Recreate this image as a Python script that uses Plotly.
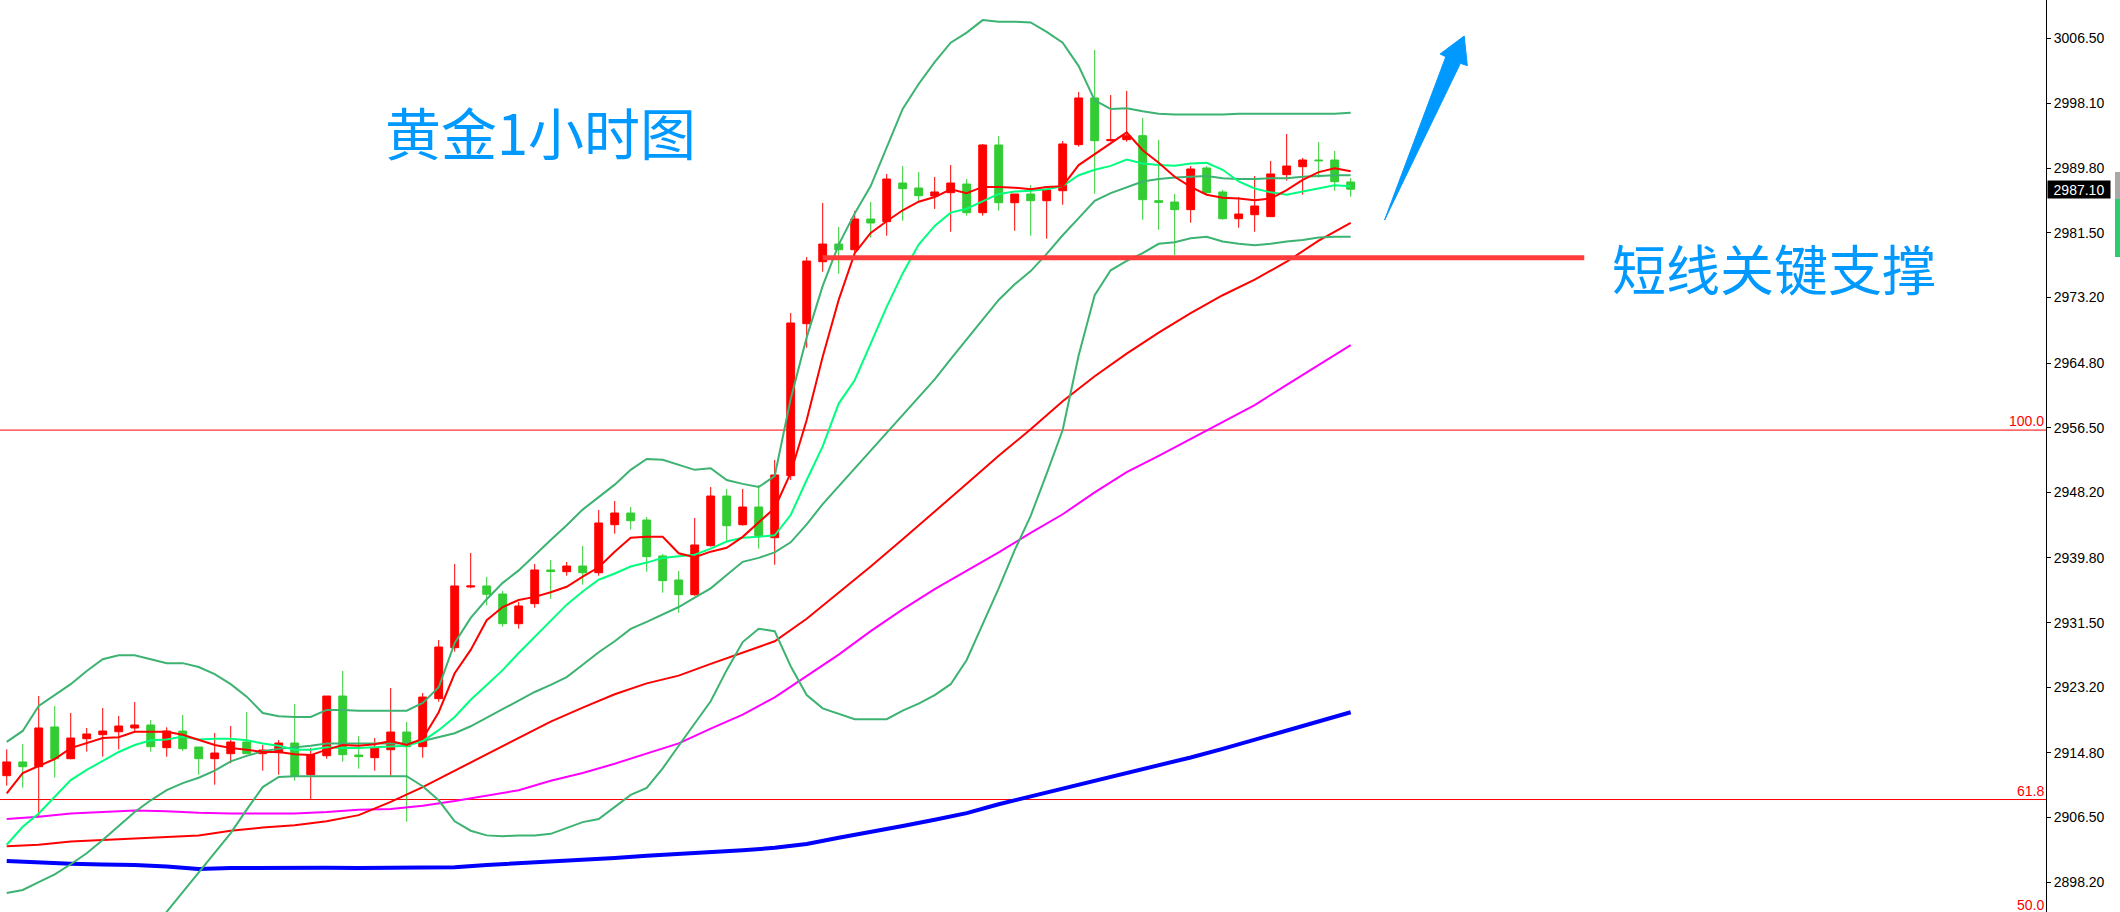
import plotly.graph_objects as go

# ---------------- figure geometry ----------------
W, H = 2120, 912
PLOT_W = 2046          # plot area width (price axis on the right)

# ---------------- data ----------------
candle_idx = list(range(85))

opens = [2911.86, 2913.62, 2913.01, 2918.11, 2914.04, 2916.60, 2917.12, 2917.50, 2917.98, 2918.36,
         2915.45, 2917.59, 2915.54, 2914.04, 2914.68, 2916.18, 2914.68, 2914.81, 2916.05, 2911.99,
         2914.42, 2922.08, 2914.51, 2914.17, 2915.19, 2917.46, 2915.58, 2921.74, 2928.28, 2936.07,
         2936.20, 2935.17, 2931.36, 2933.93, 2938.25, 2938.03, 2938.76, 2937.90, 2944.06, 2945.56,
         2944.66, 2940.05, 2936.97, 2935.08, 2941.37, 2947.74, 2944.06, 2946.33, 2942.39, 2950.35,
         2969.85, 2977.80, 2980.07, 2979.34, 2983.28, 2982.94, 2987.90, 2987.26, 2986.23, 2986.66,
         2987.77, 2984.09, 2992.78, 2985.37, 2986.49, 2985.63, 2986.91, 2992.82, 2998.81, 2993.33,
         2993.46, 2993.97, 2985.63, 2985.46, 2984.48, 2989.83, 2986.75, 2983.32, 2983.83, 2983.58,
         2988.97, 2989.99, 2990.85, 2990.85, 2988.03]
highs = [2915.24, 2915.92, 2922.08, 2920.80, 2919.90, 2917.98, 2920.54, 2919.52, 2921.31, 2919.00,
         2918.07, 2919.65, 2915.54, 2917.34, 2918.23, 2920.03, 2915.80, 2916.44, 2921.06, 2915.41,
         2922.08, 2925.29, 2916.95, 2916.69, 2923.11, 2918.75, 2922.47, 2929.27, 2939.02, 2940.43,
         2937.35, 2935.56, 2934.14, 2939.02, 2939.53, 2939.28, 2941.33, 2945.95, 2947.10, 2946.33,
         2945.05, 2940.30, 2938.12, 2944.92, 2948.90, 2948.64, 2948.64, 2949.15, 2952.36, 2971.22,
         2978.41, 2985.34, 2982.26, 2984.31, 2985.46, 2989.06, 2990.08, 2989.31, 2988.67, 2990.21,
         2988.41, 2992.91, 2993.93, 2986.49, 2987.64, 2987.00, 2993.29, 2999.58, 3004.97, 2999.19,
         2999.71, 2996.24, 2993.42, 2986.49, 2990.08, 2990.08, 2987.04, 2986.11, 2988.80, 2990.72,
         2994.19, 2991.11, 2993.16, 2992.01, 2988.54]
lows = [2910.58, 2910.32, 2906.60, 2911.60, 2913.96, 2914.94, 2914.30, 2915.24, 2917.37, 2914.94,
        2914.30, 2915.03, 2911.99, 2910.70, 2913.45, 2914.64, 2912.50, 2911.99, 2911.22, 2908.78,
        2914.04, 2913.65, 2912.76, 2912.50, 2911.86, 2905.96, 2914.17, 2921.35, 2927.77, 2935.90,
        2933.72, 2930.97, 2930.72, 2933.41, 2934.57, 2937.52, 2936.36, 2937.52, 2942.91, 2943.42,
        2938.03, 2935.34, 2932.77, 2934.95, 2941.24, 2941.88, 2943.93, 2940.98, 2938.93, 2949.80,
        2966.77, 2976.52, 2976.26, 2978.96, 2980.88, 2981.14, 2983.06, 2985.37, 2984.57, 2981.65,
        2983.71, 2983.71, 2984.35, 2981.78, 2981.14, 2980.76, 2985.12, 2992.56, 2986.53, 2993.23,
        2993.20, 2983.19, 2981.91, 2978.66, 2982.81, 2986.49, 2983.19, 2982.17, 2981.65, 2983.58,
        2988.20, 2986.40, 2988.58, 2986.91, 2986.14]
closes = [2913.62, 2913.01, 2917.98, 2914.04, 2916.69, 2917.21, 2917.59, 2918.23, 2918.36, 2915.58,
          2917.59, 2915.32, 2914.04, 2914.77, 2916.18, 2914.68, 2915.15, 2916.05, 2911.86, 2914.55,
          2922.08, 2914.55, 2914.30, 2915.41, 2917.46, 2915.58, 2921.95, 2928.37, 2936.20, 2936.20,
          2935.13, 2931.36, 2933.63, 2938.25, 2938.06, 2938.76, 2937.90, 2944.28, 2945.56, 2944.57,
          2939.96, 2936.88, 2935.08, 2941.46, 2947.74, 2943.93, 2946.33, 2942.65, 2950.44, 2969.94,
          2977.89, 2980.07, 2979.34, 2983.28, 2982.77, 2988.41, 2987.17, 2986.27, 2986.75, 2987.90,
          2984.09, 2992.78, 2985.37, 2986.49, 2985.63, 2987.00, 2992.91, 2998.81, 2993.33, 2993.46,
          2993.97, 2985.76, 2985.42, 2984.48, 2989.70, 2986.66, 2983.32, 2983.92, 2984.95, 2989.06,
          2990.08, 2990.85, 2990.76, 2988.07, 2987.10]

# fast moving average (red) and 10-period average (spring green), one value per candle
ma_fast = [2909.6, 2912.2, 2913.1, 2914.0, 2915.4, 2916.0, 2916.7, 2916.8, 2917.5, 2917.5,
           2917.5, 2917.1, 2916.4, 2915.8, 2915.4, 2915.2, 2914.9, 2914.9, 2914.6, 2914.5,
           2915.2, 2915.8, 2915.7, 2915.9, 2916.3, 2915.8, 2916.6, 2920.0, 2925.0, 2928.0,
           2931.8, 2933.5, 2934.4, 2934.8, 2935.4, 2936.1, 2937.4, 2938.6, 2940.6, 2942.4,
           2942.5, 2942.5, 2940.4, 2939.9, 2940.6, 2941.1, 2942.5, 2944.3, 2946.2, 2950.7,
           2957.5, 2965.6, 2972.9, 2978.9, 2981.5, 2983.0, 2984.4, 2985.5, 2986.1, 2987.1,
           2986.6, 2987.4, 2987.4, 2987.3, 2987.1, 2987.4, 2987.5, 2990.2, 2991.6, 2993.0,
           2994.4, 2992.1, 2990.5, 2988.7, 2987.4, 2986.4, 2986.0, 2985.9, 2985.7, 2985.9,
           2987.0, 2988.3, 2989.3, 2989.8, 2989.4]
ma_10 = [2903.0, 2905.3, 2907.0, 2909.2, 2911.3, 2912.6, 2913.7, 2914.9, 2915.8, 2916.4,
         2916.5, 2916.9, 2916.5, 2916.6, 2916.6, 2916.4, 2916.0, 2915.7, 2915.2, 2915.2,
         2915.5, 2915.4, 2915.4, 2915.5, 2915.6, 2915.7, 2916.3, 2917.7, 2919.4, 2921.6,
         2923.5, 2925.4, 2927.6, 2929.7, 2931.8, 2933.8, 2935.5, 2937.0, 2937.8, 2938.7,
         2939.2, 2939.8, 2940.0, 2940.2, 2941.0, 2941.9, 2942.4, 2942.5, 2942.7, 2945.3,
         2949.8, 2954.1, 2959.6, 2962.6, 2967.3, 2972.0, 2976.3, 2980.0, 2982.4, 2984.1,
         2984.6, 2985.6, 2986.5, 2986.8, 2986.9, 2987.1, 2987.5, 2988.9, 2989.6, 2990.1,
         2990.9, 2990.4, 2990.2, 2990.1, 2990.4, 2990.5, 2989.6, 2988.1, 2987.2, 2986.7,
         2986.4, 2986.8, 2987.2, 2987.6, 2987.5]

# Bollinger bands, one value per candle
bb_upper = [2916.2, 2917.6, 2920.8, 2922.2, 2923.6, 2925.3, 2926.8, 2927.3, 2927.3, 2926.8,
            2926.3, 2926.3, 2925.8, 2924.9, 2923.6, 2922.0, 2919.9, 2919.5, 2919.4, 2919.4,
            2920.3, 2920.3, 2920.2, 2920.2, 2920.2, 2920.2, 2921.2, 2923.2, 2928.9, 2932.1,
            2934.5, 2936.6, 2938.2, 2940.2, 2942.1, 2944.0, 2946.0, 2947.6, 2949.2, 2951.1,
            2952.5, 2952.4, 2951.7, 2951.1, 2951.3, 2949.8, 2949.3, 2948.9, 2950.3, 2960.2,
            2968.1, 2974.7, 2980.0, 2984.0, 2987.5, 2992.5, 2997.4, 3000.6, 3003.4, 3005.9,
            3007.2, 3008.8, 3008.6, 3008.6, 3008.5, 3007.3, 3005.9, 3002.9, 2998.5, 2997.4,
            2997.5, 2997.1, 2996.8, 2996.7, 2996.7, 2996.7, 2996.7, 2996.8, 2996.8, 2996.8,
            2996.8, 2996.8, 2996.8, 2996.8, 2996.9]
bb_mid = [2896.8, 2897.2, 2898.2, 2899.2, 2900.5, 2901.9, 2903.6, 2905.4, 2907.2, 2908.7,
          2910.0, 2910.9, 2911.6, 2912.5, 2913.7, 2914.4, 2915.0, 2915.3, 2915.5, 2915.7,
          2916.0, 2916.0, 2916.0, 2916.0, 2916.0, 2916.0, 2916.3, 2916.8, 2917.3, 2918.2,
          2919.3, 2920.4, 2921.6, 2922.6, 2923.5, 2924.5, 2926.1, 2927.7, 2929.1, 2930.7,
          2931.6, 2932.5, 2933.5, 2934.7, 2935.9, 2937.6, 2939.3, 2939.8, 2940.5, 2941.8,
          2944.1, 2946.7, 2949.0, 2951.3, 2953.5, 2955.8, 2958.1, 2960.4, 2962.7, 2965.3,
          2967.8, 2970.3, 2972.9, 2974.9, 2976.6, 2978.8, 2981.2, 2983.4, 2985.6, 2986.6,
          2987.4, 2988.1, 2988.4, 2988.6, 2988.7, 2988.8, 2988.5, 2988.4, 2988.4, 2988.5,
          2988.5, 2988.7, 2988.8, 2988.9, 2988.9]
bb_lower = [2877.4, 2876.8, 2875.6, 2876.2, 2877.4, 2878.5, 2880.4, 2883.5, 2887.1, 2890.6,
            2894.4, 2896.9, 2899.5, 2901.9, 2904.5, 2907.5, 2910.4, 2911.7, 2911.8, 2911.8,
            2911.8, 2911.8, 2911.8, 2911.8, 2911.8, 2911.8, 2910.5, 2908.7, 2906.0, 2904.8,
            2904.2, 2904.1, 2904.2, 2904.2, 2904.4, 2905.1, 2905.9, 2906.3, 2907.8, 2909.4,
            2910.3, 2912.8, 2915.7, 2918.5, 2921.4, 2925.4, 2929.0, 2930.7, 2930.4, 2925.9,
            2922.2, 2920.5, 2919.8, 2919.1, 2919.1, 2919.1, 2920.2, 2921.1, 2922.2, 2923.6,
            2926.7, 2931.3, 2935.9, 2940.8, 2945.2, 2950.6, 2956.2, 2965.8, 2973.5, 2976.7,
            2977.9, 2978.9, 2980.1, 2980.3, 2980.8, 2981.0, 2980.4, 2980.1, 2979.9, 2980.1,
            2980.4, 2980.6, 2980.9, 2981.0, 2981.0]

# slow averages, read every second candle
slow_idx = candle_idx[::2]
ma_slow_red = [2902.8, 2903.0, 2903.4, 2903.6, 2903.8, 2904.0, 2904.2, 2904.8, 2905.2, 2905.5,
               2906.0, 2906.8, 2908.5, 2910.4, 2912.5, 2914.7, 2916.8, 2918.8, 2920.6, 2922.3,
               2923.7, 2924.7, 2926.2, 2927.7, 2929.1, 2932.0, 2935.3, 2938.7, 2942.2, 2945.7,
               2949.3, 2952.9, 2956.3, 2959.9, 2963.1, 2966.0, 2968.7, 2971.2, 2973.5, 2975.5,
               2977.8, 2980.5, 2982.8]
ma_magenta = [2906.3, 2906.6, 2907.0, 2907.2, 2907.4, 2907.3, 2907.1, 2907.0, 2907.0, 2907.0,
              2907.2, 2907.5, 2907.6, 2908.0, 2908.6, 2909.3, 2910.0, 2911.2, 2912.2, 2913.4,
              2914.7, 2916.0, 2917.9, 2919.7, 2921.9, 2924.7, 2927.4, 2930.4, 2933.2, 2935.8,
              2938.1, 2940.5, 2943.0, 2945.4, 2948.2, 2950.8, 2952.9, 2955.1, 2957.3, 2959.4,
              2962.0, 2964.6, 2967.1]
ma_blue = [2900.9, 2900.7, 2900.55, 2900.45, 2900.4, 2900.2, 2899.9, 2900.0, 2900.05, 2900.05,
           2900.05, 2900.0, 2900.0, 2900.0, 2900.1, 2900.4, 2900.6, 2900.8, 2901.0, 2901.3,
           2901.6, 2901.8, 2902.0, 2902.3, 2902.6, 2903.1, 2903.9, 2904.6, 2905.4, 2906.2,
           2907.05, 2908.2, 2909.2, 2910.2, 2911.2, 2912.2, 2913.1, 2914.2, 2915.3, 2916.5,
           2917.6, 2918.85, 2920.0]

y_ticks = [3006.50, 2998.10, 2989.80, 2981.50, 2973.20, 2964.80, 2956.50,
           2948.20, 2939.80, 2931.50, 2923.20, 2914.80, 2906.50, 2898.20]
fib_levels = [2956.2, 2908.8]
fib_labels = ["100.0", "61.8"]
fib_bottom_label = "50.0"     # its level lies just below the visible price range
last_price = 2987.10
support_level = 2978.3
support_from, support_to = 51.0, 98.6

title_text = "黄金1小时图"
support_text = "短线关键支撑"

y_range = [2894.37, 3011.38]
x_range = [-0.42, 127.46]

# ---------------- colours ----------------
RED = "#FF0000"
CANDLE_GREEN = "#32CD32"
BAND = "#3CB371"
SPRING = "#00FF7F"
MAGENTA = "#FF00FF"
BLUE = "#0000FF"
NOTE_BLUE = "#0099FF"


def px(x):
    return x / PLOT_W


def py(y):
    return 1 - y / H


fig = go.Figure()

fig.add_trace(go.Candlestick(
    x=candle_idx, open=opens, high=highs, low=lows, close=closes,
    increasing=dict(line=dict(color=RED, width=1), fillcolor=RED),
    decreasing=dict(line=dict(color=CANDLE_GREEN, width=1), fillcolor=CANDLE_GREEN),
    whiskerwidth=0, hoverinfo="skip", showlegend=False))

line_specs = [
    (slow_idx, ma_blue, BLUE, 4),
    (slow_idx, ma_magenta, MAGENTA, 2),
    (slow_idx, ma_slow_red, RED, 2),
    (candle_idx, bb_lower, BAND, 2),
    (candle_idx, bb_mid, BAND, 2),
    (candle_idx, bb_upper, BAND, 2),
    (candle_idx, ma_10, SPRING, 2),
    (candle_idx, ma_fast, RED, 2),
]
for xs, ys, col, w in line_specs:
    fig.add_trace(go.Scatter(x=xs, y=ys, mode="lines",
                             line=dict(color=col, width=w),
                             hoverinfo="skip", showlegend=False))

shapes = []
annotations = []

# Fibonacci levels
lab_font = dict(family="Liberation Sans", size=14, color=RED)
for lvl, lab in zip(fib_levels, fib_labels):
    shapes.append(dict(type="line", xref="paper", yref="y", x0=0, x1=1, y0=lvl, y1=lvl,
                       line=dict(color=RED, width=1), layer="below"))
    annotations.append(dict(xref="paper", yref="y", x=1, y=lvl, xanchor="right", yanchor="bottom",
                            text=lab, showarrow=False, xshift=-1, borderpad=0, font=lab_font))
annotations.append(dict(xref="paper", yref="paper", x=1, y=0, xanchor="right", yanchor="bottom",
                        text=fib_bottom_label, showarrow=False, xshift=-1, yshift=-2,
                        borderpad=0, font=lab_font))

# support line
shapes.append(dict(type="line", xref="x", yref="y", x0=support_from, x1=support_to,
                   y0=support_level, y1=support_level,
                   line=dict(color="#FF3B3B", width=5)))

# blue arrow (hand-drawn annotation)
arrow_pts = [(1384.6, 220), (1445.8, 56.7), (1440.1, 54), (1464.2, 36),
             (1467.3, 65.7), (1460.4, 63.3)]
path = "M " + " L ".join(f"{px(x):.5f},{py(y):.5f}" for x, y in arrow_pts) + " Z"
shapes.append(dict(type="path", xref="paper", yref="paper", path=path,
                   fillcolor=NOTE_BLUE, line=dict(color=NOTE_BLUE, width=1)))

# small UI widget at the far right edge
shapes.append(dict(type="rect", xref="paper", yref="paper", x0=px(2115), x1=px(2125),
                   y0=py(199), y1=py(172), fillcolor="#A8A8A8", line=dict(width=0)))
shapes.append(dict(type="rect", xref="paper", yref="paper", x0=px(2115), x1=px(2125),
                   y0=py(257), y1=py(199), fillcolor="#2ECC71", line=dict(width=0)))

# texts
annotations.append(dict(xref="paper", yref="paper", x=px(540), y=py(130),
                        xanchor="center", yanchor="middle", text=title_text, showarrow=False,
                        font=dict(family="Noto Sans CJK SC", size=56, color=NOTE_BLUE)))
annotations.append(dict(xref="paper", yref="paper", x=px(1774), y=py(267),
                        xanchor="center", yanchor="middle", text=support_text, showarrow=False,
                        font=dict(family="Noto Sans CJK SC", size=54, color=NOTE_BLUE)))

# current price tag
annotations.append(dict(xref="paper", yref="y", x=1, y=last_price, xanchor="left",
                        yanchor="middle", text=f"{last_price:.2f}", showarrow=False,
                        bgcolor="black", width=62, height=17, borderpad=0, xshift=1,
                        font=dict(family="Liberation Sans", size=14, color="white")))

fig.update_layout(
    width=W, height=H,
    margin=dict(l=0, r=W - PLOT_W, t=0, b=0, pad=0),
    paper_bgcolor="white", plot_bgcolor="white",
    showlegend=False,
    shapes=shapes, annotations=annotations,
    xaxis=dict(range=x_range, showgrid=False, zeroline=False, showticklabels=False,
               showline=False, ticks="", rangeslider=dict(visible=False), fixedrange=True),
    yaxis=dict(range=y_range, side="right", showgrid=False, zeroline=False,
               showline=True, linecolor="black", linewidth=1,
               ticks="outside", ticklen=4, tickcolor="black", tickwidth=1,
               tickvals=y_ticks, ticktext=[f"{v:.2f}" for v in y_ticks],
               tickfont=dict(family="Liberation Sans", size=14, color="black"),
               fixedrange=True),
)

fig.write_html("out.html", config={"displayModeBar": False},
               post_script="document.body.style.margin='0';")
